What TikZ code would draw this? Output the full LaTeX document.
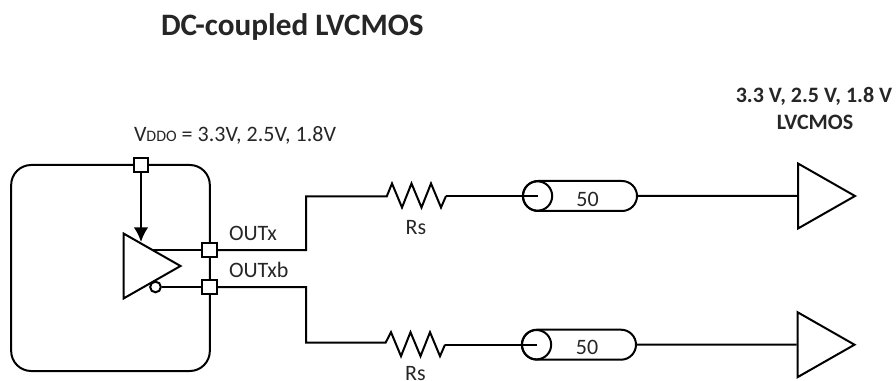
\documentclass[tikz,border=0pt]{standalone}
\usepackage{fontspec}
\setmainfont{Carlito}
\usetikzlibrary{positioning, shapes.geometric, shapes.misc, arrows.meta}

\begin{document}
\begin{tikzpicture}[x=0.75pt, y=-0.75pt, line width=1.5pt, inner sep=0pt,
      chip/.style={draw, rectangle, rounded corners=15pt, minimum width=149pt, minimum height=154.5pt},
      pad/.style={draw, rectangle, fill=white, minimum size=11pt},
      buffer/.style={draw, fill=white, isosceles triangle, isosceles triangle stretches,
        minimum width=48.75pt, minimum height=42.75pt, anchor=lower side},
      coax/.style={draw, rounded rectangle, minimum width=85.5pt, minimum height=22.5pt},
      coaxend/.style={draw, circle, minimum size=22pt},
      label/.style={font=\fontsize{16.5}{16.5}\selectfont, anchor=base, text=black!85},
      heading/.style={font=\fontsize{16.5}{20}\selectfont\bfseries, anchor=base, text=black!85}]
      \useasboundingbox (0,0) rectangle (896,381);
      \node[font=\fontsize{23.4}{23.4}\selectfont\bfseries, anchor=base west, text=black!85] (title) at(160,36) {DC-coupled LVCMOS};
      % device with its pads;
      \node[chip](chip) at(110.5,268) {};
      \coordinate (wire_x) at(150,250);
      \coordinate (tip_v) at(141,242);
      \node[pad](pad_x) at(209.5,250) {};
      \node[pad](pad_xb) at(209.5,287) {};
      \path[draw] (wire_x) -- (pad_x);
      \node[buffer](drv) at(122.5,266) {};
      \node[draw, circle, fill=white, minimum size=8pt](bubble) at(155.5,287) {};
      \path[draw] (bubble) -- (pad_xb);
      \node[pad](pad_v) at(141,165) {};
      \path[draw, -{Latex[length=11pt, width=11pt]}] (pad_v) -- (tip_v);
      \node[label, anchor=base west](vddo) at(133,142) {V{\fontsize{12}{12}\selectfont DDO} = 3.3V, 2.5V, 1.8V};
      \node[label, anchor=base west](out_x) at(228,240) {OUTx};
      \node[label, anchor=base west](out_xb) at(228,277) {OUTxb};
      % both channels;
      \foreach \n/\px/\yw/\yr/\dx/\yt in {a/x/196.5/196/0/234, b/xb/342.5/344.7/-1/380}{
        \coordinate (bend_\n) at(306,\yw);
        \coordinate (res_\n_in) at(386.7+\dx,\yw);
        \coordinate (res_\n_out) at(446+\dx,\yr);
        \path[draw] (pad_\px) -| (bend_\n) -- (res_\n_in)
          -- (392+\dx,\yr-12.5) -- (402+\dx,\yr+11.5) -- (411.5+\dx,\yr-12.5) -- (421.5+\dx,\yr+11.5)
          -- (431+\dx,\yr-12.5) -- (441+\dx,\yr+11.5) -- (res_\n_out);
        \node[coax](coax_\n) at(580+\dx,\yr) {};
        \node[coaxend](end_\n) at(537.5+\dx,\yr) {};
        \path[draw] (res_\n_out) -- (end_\n.center);
        \node[buffer](rcv_\n) at(797+\dx/2,\yr) {};
        \path[draw] (coax_\n) -- (rcv_\n.lower side);
        \node[label](zo_\n) at(587.5+\dx/2,\yr+10) {50};
        \node[label](rs_\n) at(416+\dx/2,\yt) {Rs};
      }
      \node[heading](rcv_top) at(814,103) {3.3 V, 2.5 V, 1.8 V};
      \node[heading](rcv_sub) at(815,130) {LVCMOS};
\end{tikzpicture}
\end{document}
